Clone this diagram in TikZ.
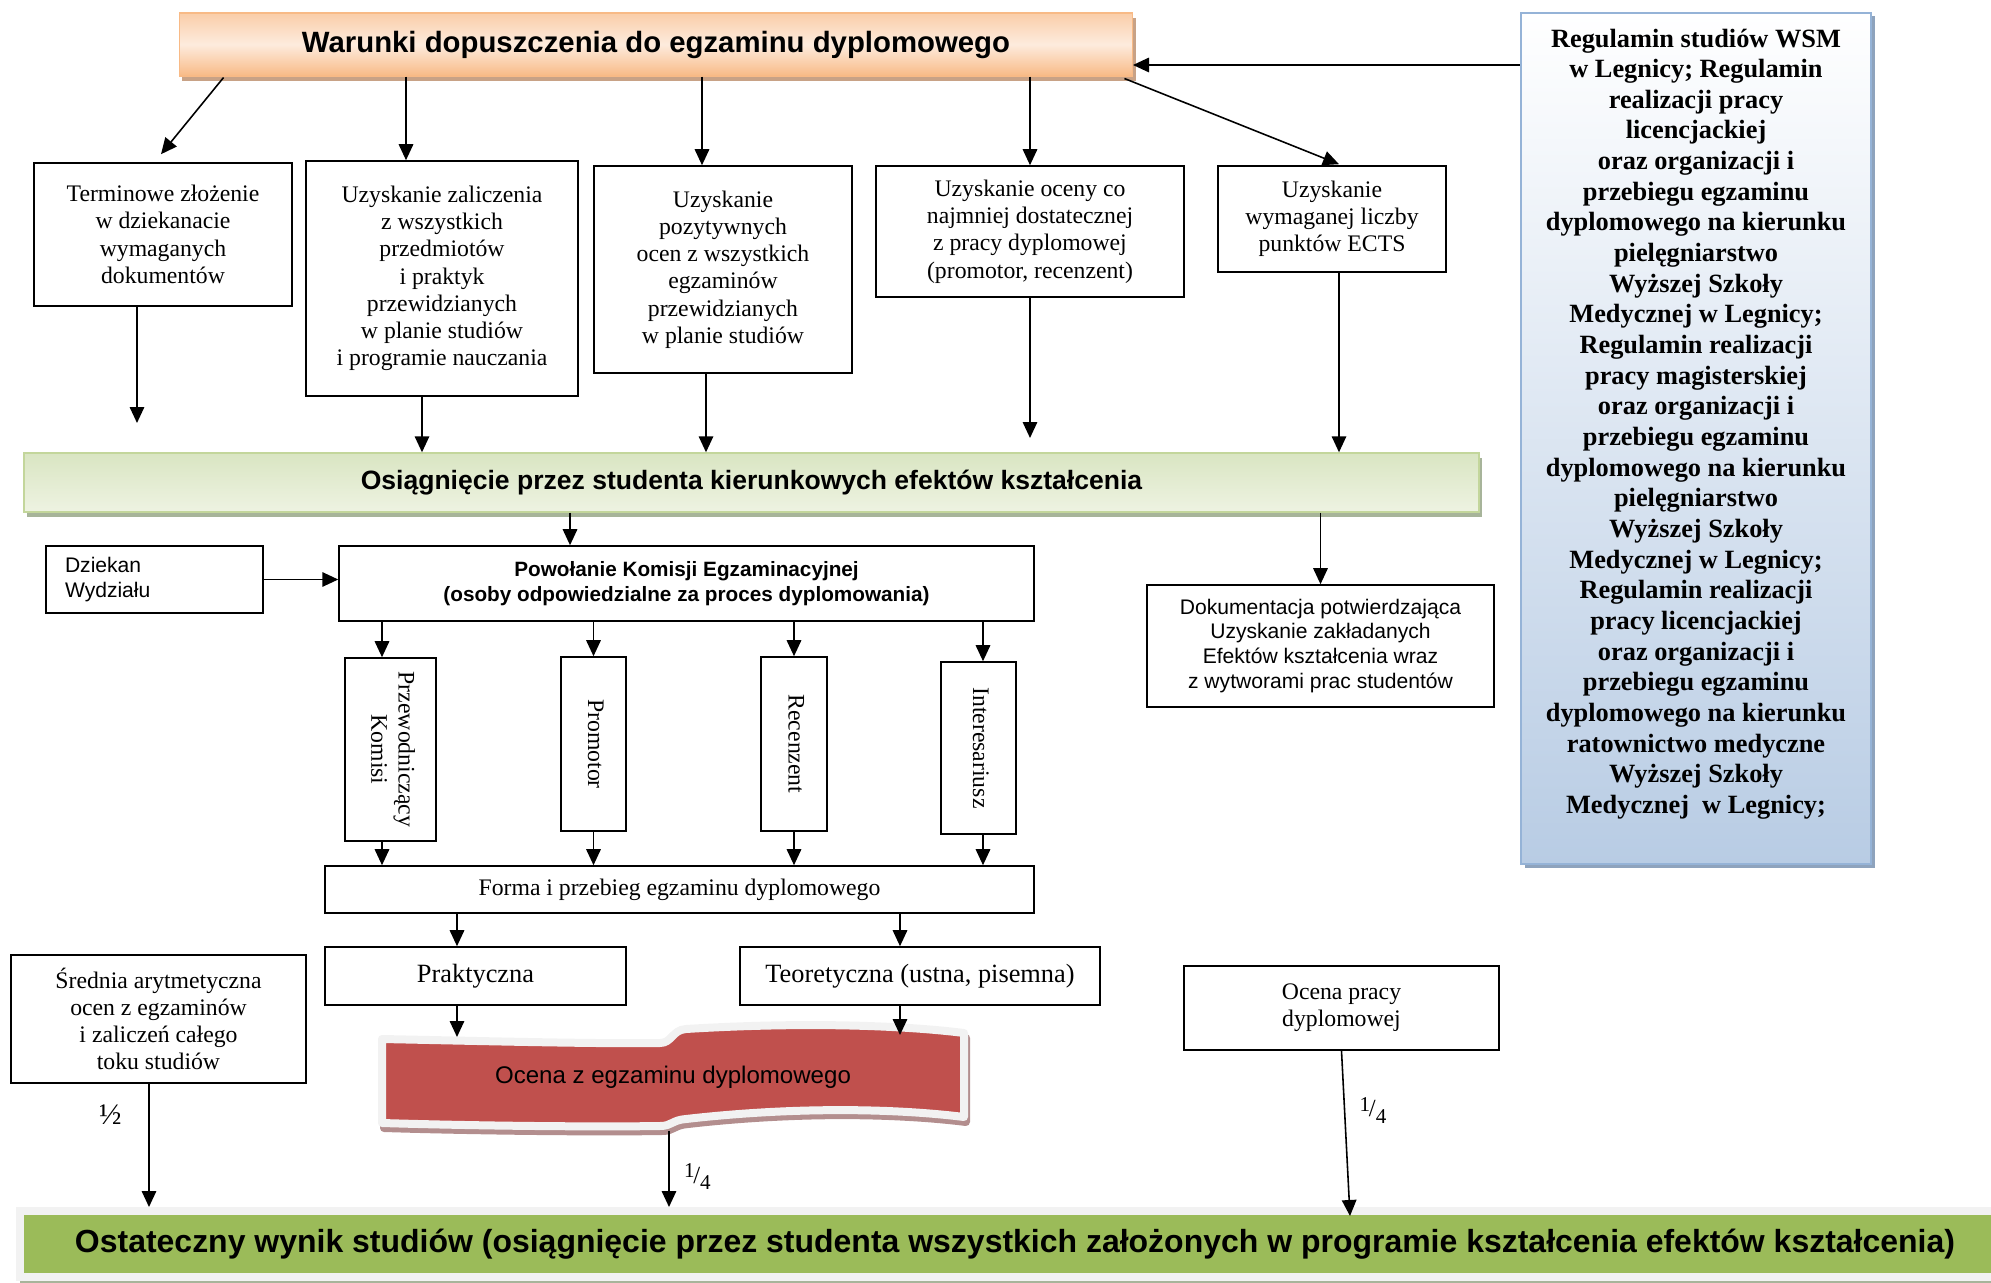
\documentclass[tikz,border=0pt]{standalone}
\usepackage{fontspec}
\setmainfont{Liberation Serif}
\newfontfamily\arialf{Liberation Sans}
\usepackage{tikz}
\usetikzlibrary{arrows.meta, positioning, fit, calc, shadows}

\definecolor{orDark}{HTML}{F8BA86}
\definecolor{orLight}{HTML}{FDEBDD}
\definecolor{orShadow}{HTML}{C8A286}
\definecolor{grLight}{HTML}{EEF3E2}
\definecolor{grDark}{HTML}{D9E5C2}
\definecolor{grEdge}{HTML}{C3D69B}
\definecolor{grShadow}{HTML}{A7B49A}
\definecolor{blDark}{HTML}{B8CCE4}
\definecolor{blEdge}{HTML}{95B3D7}
\definecolor{blShadow}{HTML}{8EA3BD}
\definecolor{rdFill}{HTML}{C0504D}
\definecolor{rdShadow}{HTML}{B38E8E}
\definecolor{frGray}{HTML}{F2F2F2}
\definecolor{finGreen}{HTML}{9BBB59}

\newcommand{\quarter}{\raisebox{0.5ex}{\fontsize{12}{12}\selectfont 1}\kern-0.05em/\raisebox{-0.55ex}{\fontsize{12}{12}\selectfont 4}}
\newcommand{\rotlab}[1]{\rotatebox{-90}{\begin{tabular}{@{}c@{}}#1\end{tabular}}}

\begin{document}
\begin{tikzpicture}[x=0.02cm, y=-0.02cm,
    box/.style={draw, line width=0.9pt, align=center, inner sep=0pt, font=\fontsize{13.5}{15.5}\selectfont},
    sfbox/.style={box, font=\arialf\fontsize{12}{14.2}\selectfont},
    bigbox/.style={box, font=\fontsize{15}{17}\selectfont},
    arrow/.style={-{Triangle[length=0.32cm, width=0.29cm]}, line width=0.9pt},
    frac/.style={font=\fontsize{14}{16}\selectfont, inner sep=1pt},
    topbar/.style={draw=orDark, line width=0.6pt, top color=orDark!60!orLight, bottom color=orDark, middle color=orLight, inner sep=0pt, font=\arialf\bfseries\fontsize{16.7}{19}\selectfont, drop shadow={shadow xshift=0.06cm, shadow yshift=-0.1cm, fill=orShadow, opacity=1}},
    midbar/.style={draw=grEdge, line width=0.8pt, top color=grDark, bottom color=grLight, inner sep=0pt, font=\arialf\bfseries\fontsize{15.1}{18}\selectfont, drop shadow={shadow xshift=0.06cm, shadow yshift=-0.1cm, fill=grShadow, opacity=1}},
    finbar/.style={fill=finGreen, draw=frGray, line width=0.16cm, inner sep=0pt, font=\arialf\bfseries\fontsize{18.2}{21}\selectfont, drop shadow={shadow xshift=0cm, shadow yshift=-0.12cm, fill=grShadow, opacity=1}},
    regbox/.style={draw=blEdge, line width=0.05cm, top color=white, bottom color=blDark, inner sep=0pt, drop shadow={shadow xshift=0.07cm, shadow yshift=-0.07cm, fill=blShadow, opacity=1}}
]
\useasboundingbox (0,0) rectangle (1991,1283);
% Conditions
\node[topbar, minimum width=19.08cm, minimum height=1.26cm] (war) at (656,44.5) {Warunki dopuszczenia do egzaminu dyplomowego};
\node[box, minimum width=5.16cm, minimum height=2.86cm] (b1) at (163,234.5) {Terminowe złożenie\\w dziekanacie\\wymaganych\\dokumentów};
\node[box, minimum width=5.44cm, minimum height=4.70cm] (b2) at (442,278.5) {Uzyskanie zaliczenia\\z wszystkich\\przedmiotów\\i praktyk\\przewidzianych\\w planie studiów\\i programie nauczania};
\node[box, minimum width=5.16cm, minimum height=4.14cm] (b3) at (723,269.5) {Uzyskanie\\pozytywnych\\ocen z wszystkich\\egzaminów\\przewidzianych\\w planie studiów};
\node[box, minimum width=6.16cm, minimum height=2.62cm] (b4) at (1030,231.5) {Uzyskanie oceny co\\najmniej dostatecznej\\z pracy dyplomowej\\(promotor, recenzent)};
\node[box, minimum width=4.56cm, minimum height=2.12cm] (b5) at (1332,219) {Uzyskanie\\wymaganej liczby\\punktów ECTS};
% Regulations
\node[regbox, fit={(1521,13) (1871,864)}] (reg) {};
\node[font=\bfseries\fontsize{15}{17.45}\selectfont, align=center] (regt) at (1696,424) {Regulamin studiów WSM\\w Legnicy; Regulamin\\realizacji pracy\\licencjackiej\\oraz organizacji i\\przebiegu egzaminu\\dyplomowego na kierunku\\pielęgniarstwo\\Wyższej Szkoły\\Medycznej w Legnicy;\\Regulamin realizacji\\pracy magisterskiej\\oraz organizacji i\\przebiegu egzaminu\\dyplomowego na kierunku\\pielęgniarstwo\\Wyższej Szkoły\\Medycznej w Legnicy;\\Regulamin realizacji\\pracy licencjackiej\\oraz organizacji i\\przebiegu egzaminu\\dyplomowego na kierunku\\ratownictwo medyczne\\Wyższej Szkoły\\Medycznej~~w Legnicy;};
% Learning outcomes and committee
\node[midbar, minimum width=29.1cm, minimum height=1.18cm] (ach) at (751.5,482.5) {Osiągnięcie przez studenta kierunkowych efektów kształcenia};
\node[sfbox, align=left, text width=3.58cm, inner xsep=0.38cm, minimum height=1.34cm] (dz) at (154.5,579.5) {Dziekan\\Wydziału};
\node[box, font=\arialf\bfseries\fontsize{11.8}{14.4}\selectfont, minimum width=13.9cm, minimum height=1.5cm] (pow) at (686.5,583.5) {Powołanie Komisji Egzaminacyjnej\\(osoby odpowiedzialne za proces dyplomowania)};
\node[sfbox, minimum width=6.94cm, minimum height=2.44cm] (dok) at (1320.5,646) {Dokumentacja potwierdzająca\\Uzyskanie zakładanych\\Efektów kształcenia wraz\\z wytworami prac studentów};
\node[box, minimum width=1.82cm, minimum height=3.66cm] (prz) at (390.5,749.5) {\rotlab{Przewodniczący\\Komisi}};
\node[box, minimum width=1.30cm, minimum height=3.48cm] (pro) at (593.5,744) {\rotlab{Promotor}};
\node[box, minimum width=1.32cm, minimum height=3.48cm] (rec) at (794,744) {\rotlab{Recenzent}};
\node[box, minimum width=1.50cm, minimum height=3.44cm] (int) at (978.5,748) {\rotlab{Interesariusz}};
% Exam
\node[box, minimum width=14.18cm, minimum height=0.94cm] (forma) at (679.5,889.5) {Forma i przebieg egzaminu dyplomowego};
\node[bigbox, minimum width=6.02cm, minimum height=1.16cm] (prak) at (475.5,976) {Praktyczna};
\node[bigbox, minimum width=7.2cm, minimum height=1.16cm] (teo) at (920,976) {Teoretyczna (ustna, pisemna)};
\node[box, minimum width=5.9cm, minimum height=2.56cm] (sr) at (158.5,1019) {Średnia arytmetyczna\\ocen z egzaminów\\i zaliczeń całego\\toku studiów};
\node[box, minimum width=6.3cm, minimum height=1.68cm] (opd) at (1341.5,1008) {Ocena pracy\\dyplomowej};
% Exam grade banner
\begin{scope}[shift={(2,5)}]
\filldraw[rdShadow, line width=0.16cm, line join=round] (382,1039) .. controls (480,1041) and (600,1044) .. (660,1043) .. controls (672,1043) and (672,1030) .. (686,1029) .. controls (800,1022) and (900,1025) .. (964,1033) -- (964,1117) .. controls (900,1109) and (800,1106) .. (686,1119) .. controls (672,1120) and (672,1126) .. (660,1126) .. controls (600,1127) and (480,1126) .. (382,1123) -- cycle;
\end{scope}
\filldraw[fill=rdFill, draw=frGray, line width=0.16cm, line join=round] (382,1039) .. controls (480,1041) and (600,1044) .. (660,1043) .. controls (672,1043) and (672,1030) .. (686,1029) .. controls (800,1022) and (900,1025) .. (964,1033) -- (964,1117) .. controls (900,1109) and (800,1106) .. (686,1119) .. controls (672,1120) and (672,1126) .. (660,1126) .. controls (600,1127) and (480,1126) .. (382,1123) -- cycle;
\node[font=\arialf\fontsize{13.7}{16}\selectfont] (ocz) at (673,1077) {Ocena z egzaminu dyplomowego};
% Final result
\node[finbar, minimum width=39.8cm, minimum height=1.32cm] (wyn) at (1015,1244) {Ostateczny wynik studiów (osiągnięcie przez studenta wszystkich założonych w programie kształcenia efektów kształcenia)};
% Free ends
\coordinate (wr) at (1133,65);
\coordinate (e1) at (137,423);
\coordinate (e4) at (1030,438);
\coordinate (ot1) at (457,1037);
\coordinate (ot2) at (900,1035);
\coordinate (ob) at (669,1131);
\coordinate (ow) at (1350,1216);
% Arrows
\draw[arrow] (reg.west |- wr) -- (wr);
\draw[arrow] ($(war.south west)+(45,1)$) -- ($(b1.north)+(-2,-8)$);
\draw[arrow] ([xshift=-0.72cm]b2.north |- war.south) -- ([xshift=-0.72cm]b2.north);
\draw[arrow] ([xshift=-0.42cm]b3.north |- war.south) -- ([xshift=-0.42cm]b3.north);
\draw[arrow] (b4.north |- war.south) -- (b4.north);
\draw[arrow] ($(war.south east)+(-9,2)$) -- ($(b5.north)+(7,-1)$);
\draw[arrow] (b1.south -| e1) -- (e1);
\draw[arrow] ([xshift=-0.4cm]b2.south) -- ([xshift=-0.4cm]b2.south |- ach.north);
\draw[arrow] ([xshift=-0.34cm]b3.south) -- ([xshift=-0.34cm]b3.south |- ach.north);
\draw[arrow] (b4.south) -- (e4);
\draw[arrow] ([xshift=0.14cm]b5.south) -- ([xshift=0.14cm]b5.south |- ach.north);
\draw[arrow] ([xshift=-2.33cm]pow.north |- ach.south) -- ([xshift=-2.33cm]pow.north);
\draw[arrow] (dok.north |- ach.south) -- (dok.north);
\draw[arrow] (dz.east) -- (dz.east -| pow.west);
\foreach \v/\s in {prz/-0.17cm, pro/0cm, rec/0cm, int/0.09cm} {
    \draw[arrow] ([xshift=\s]\v.north |- pow.south) -- ([xshift=\s]\v.north);
    \draw[arrow] ([xshift=\s]\v.south) -- ([xshift=\s]\v.south |- forma.north);
}
\draw[arrow] ([xshift=-0.37cm]prak.north |- forma.south) -- ([xshift=-0.37cm]prak.north);
\draw[arrow] ([xshift=-0.4cm]teo.north |- forma.south) -- ([xshift=-0.4cm]teo.north);
\draw[arrow] (prak.south -| ot1) -- (ot1);
\draw[arrow] (teo.south -| ot2) -- (ot2);
\draw[arrow] ([xshift=-0.19cm]sr.south) -- ([xshift=-0.19cm]sr.south |- wyn.north) node[frac, font=\fontsize{17}{17}\selectfont, pos=0.25, left=0.5cm] {½};
\draw[arrow] (ob) -- (ob |- wyn.north) node[frac, pos=0.6, right=0.25cm] {\quarter};
\draw[arrow] (opd.south) -- (ow) node[frac, pos=0.36, right=0.25cm] {\quarter};
\end{tikzpicture}
\end{document}
